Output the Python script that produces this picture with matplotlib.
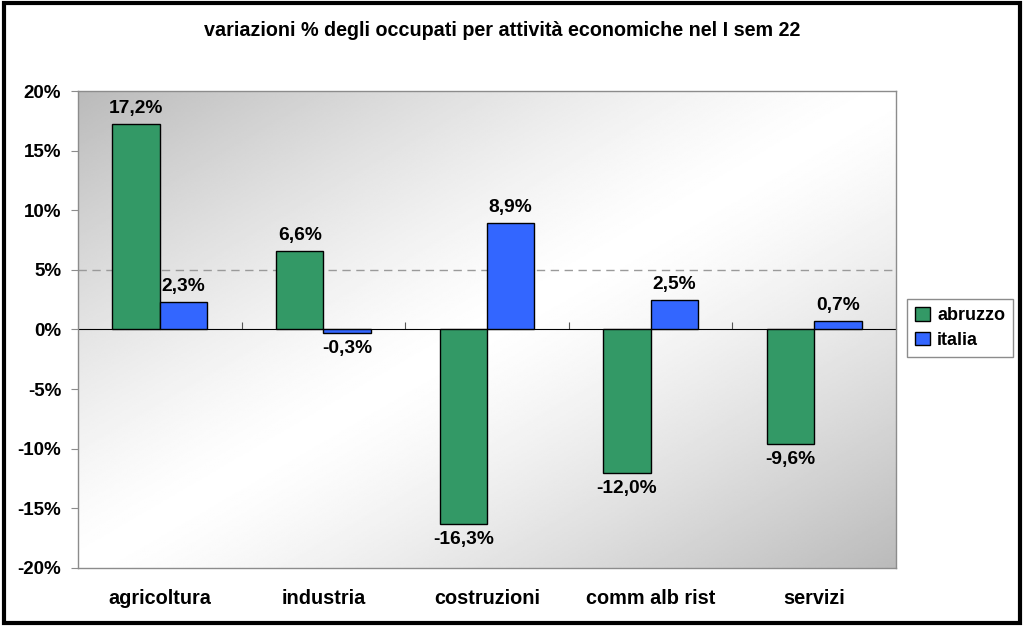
import matplotlib

matplotlib.use("Agg")
import matplotlib.pyplot as plt
import numpy as np
from matplotlib.patches import Rectangle

categories = ["agricoltura", "industria", "costruzioni", "comm alb rist", "servizi"]
abruzzo = [17.2, 6.6, -16.3, -12.0, -9.6]
italia = [2.3, -0.3, 8.9, 2.5, 0.7]
y_ticks = [-20, -15, -10, -5, 0, 5, 10, 15, 20]
title = "variazioni % degli occupati per attività economiche nel I sem 22"

GREEN = "#339966"
BLUE = "#3366FF"
GRAY = "#8c8c8c"

plt.rcParams["font.family"] = ["Liberation Sans", "DejaVu Sans"]
plt.rcParams["font.weight"] = "bold"


def fmt(value):
    return f"{value:.1f}".replace(".", ",") + "%"


fig = plt.figure(figsize=(10.24, 6.26), dpi=100)
ax = fig.add_axes([0.0762, 0.0927, 0.7988, 0.7619])

# diagonal gradient: grey corners (top-left, bottom-right), white across the middle
u, v = np.meshgrid(np.linspace(0, 1, 400), np.linspace(1, 0, 300))
s = (u + 1 - v) / 2
shade = 1 - 0.27 * (np.abs(s - 0.5) * 2) ** 1.3
ax.imshow(shade, cmap="gray", vmin=0, vmax=1, extent=(0, 1, 0, 1),
          transform=ax.transAxes, aspect="auto", zorder=0)

x = np.arange(len(categories))
width = 0.29
bars_a = ax.bar(x - width / 2, abruzzo, width, color=GREEN, edgecolor="black",
                linewidth=1, label="abruzzo", zorder=3)
bars_i = ax.bar(x + width / 2, italia, width, color=BLUE, edgecolor="black",
                linewidth=1, label="italia", zorder=3)
ax.bar_label(bars_a, labels=[fmt(val) for val in abruzzo], padding=5,
             fontsize=13.8, fontweight="bold")
ax.bar_label(bars_i, labels=[fmt(val) for val in italia], padding=5,
             fontsize=13.8, fontweight="bold")

ax.axhline(5, color="#9a9a9a", linestyle=(0, (6, 4)), linewidth=1, zorder=1)

ax.set_xlim(-0.5, len(categories) - 0.5)
ax.set_ylim(-20, 20)
ax.set_yticks(y_ticks)
ax.set_yticklabels([f"{t}%" for t in y_ticks])
ax.set_xticks(x)
ax.set_xticklabels(categories)
ax.tick_params(axis="y", direction="out", length=5, color=GRAY, labelsize=13.5, pad=7)
ax.tick_params(axis="x", length=0, labelsize=14.3, pad=15)
for spine in ax.spines.values():
    spine.set_color(GRAY)
    spine.set_linewidth(1)

# zero line with tick marks between categories
zero_axis = ax.secondary_xaxis(0.5)
zero_axis.set_xticks(x[:-1] + 0.5)
zero_axis.set_xticklabels([])
zero_axis.tick_params(direction="out", length=5, color="#555555")
zero_axis.spines["bottom"].set_color("#555555")
zero_axis.spines["bottom"].set_linewidth(1)

fig.legend(loc="center left", bbox_to_anchor=(0.886, 0.476), borderaxespad=0,
           fontsize=13, frameon=True, fancybox=False, edgecolor=GRAY, framealpha=1,
           handlelength=0.8, handleheight=0.8, handletextpad=0.4,
           borderpad=0.45, labelspacing=0.4)

fig.text(0.49, 0.952, title, ha="center", va="center", fontsize=14.2, fontweight="bold")

fig.add_artist(Rectangle((0.0035, 0.0055), 0.993, 0.989, transform=fig.transFigure,
                         fill=False, linewidth=3, edgecolor="black"))

fig.savefig("out.png", dpi=100)
plt.close(fig)
